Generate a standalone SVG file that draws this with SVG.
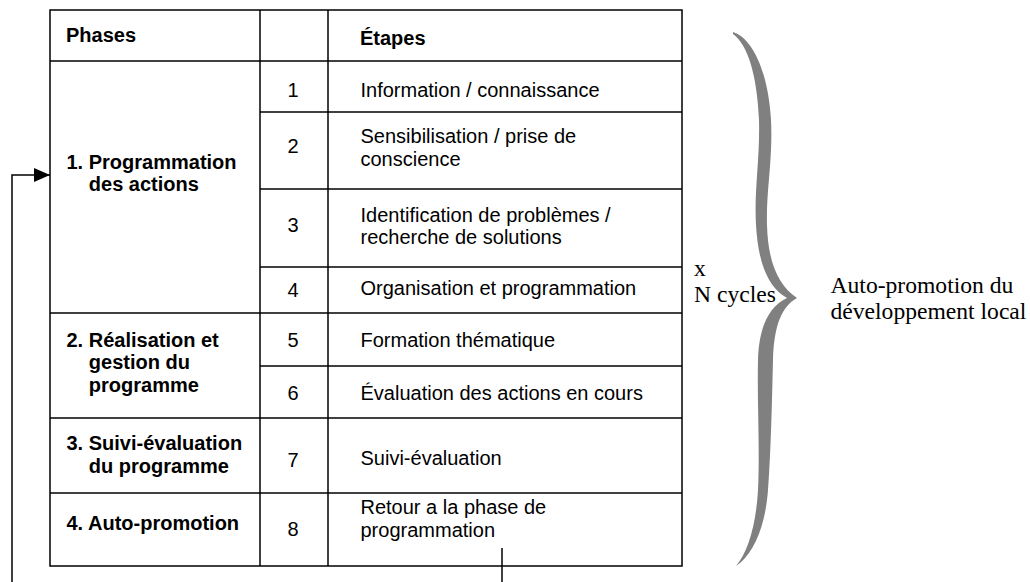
<svg xmlns="http://www.w3.org/2000/svg" width="1030" height="582" viewBox="0 0 1030 582">
<style>
.ln{stroke:#000;stroke-width:1.5;fill:none}
.t{font-family:"Liberation Sans",Arial,sans-serif;font-size:20px;fill:#000}
.b{font-weight:bold}
.n{text-anchor:middle}
.s{font-family:"Liberation Serif","Times New Roman",serif;font-size:23.6px;fill:#000}
</style>
<defs>
<marker id="ah" markerWidth="16" markerHeight="14" refX="16" refY="7" orient="auto" markerUnits="userSpaceOnUse">
<path d="M0,0 L16,7 L0,14 Z" fill="#000"/>
</marker>
</defs>
<rect width="1030" height="582" fill="#fff"/>
<g id="table">
<rect class="ln" x="50" y="10" width="632" height="556"/>
<line class="ln" x1="260" y1="10" x2="260" y2="566"/>
<line class="ln" x1="328" y1="10" x2="328" y2="566"/>
<line class="ln" x1="50" y1="61" x2="682" y2="61"/>
<line class="ln" x1="260" y1="112" x2="682" y2="112"/>
<line class="ln" x1="260" y1="189" x2="682" y2="189"/>
<line class="ln" x1="260" y1="267" x2="682" y2="267"/>
<line class="ln" x1="50" y1="313" x2="682" y2="313"/>
<line class="ln" x1="260" y1="366" x2="682" y2="366"/>
<line class="ln" x1="50" y1="418" x2="682" y2="418"/>
<line class="ln" x1="50" y1="493" x2="682" y2="493"/>
</g>
<g id="header">
<text class="t b" x="66" y="42">Phases</text>
<text class="t b" x="360" y="44.5">Étapes</text>
</g>
<g id="phase1">
<text class="t b" x="66.5" y="168.5">1. Programmation</text>
<text class="t b" x="88.8" y="191">des actions</text>
</g>
<g id="phase2">
<text class="t b" x="66.5" y="346.5">2. Réalisation et</text>
<text class="t b" x="88.8" y="369">gestion du</text>
<text class="t b" x="88.8" y="391.5">programme</text>
</g>
<g id="phase3">
<text class="t b" x="66.5" y="450">3. Suivi-évaluation</text>
<text class="t b" x="88.8" y="472.5">du programme</text>
</g>
<g id="phase4">
<text class="t b" x="66.5" y="530">4. Auto-promotion</text>
</g>
<g id="numbers">
<text class="t n" x="293" y="97">1</text>
<text class="t n" x="293" y="153">2</text>
<text class="t n" x="293" y="232">3</text>
<text class="t n" x="293" y="297">4</text>
<text class="t n" x="293" y="346.5">5</text>
<text class="t n" x="293" y="399.5">6</text>
<text class="t n" x="293" y="466.5">7</text>
<text class="t n" x="293" y="535.5">8</text>
</g>
<g id="steps">
<text class="t" x="360.5" y="97">Information / connaissance</text>
<text class="t" x="360.5" y="143">Sensibilisation / prise de</text>
<text class="t" x="360.5" y="165.5">conscience</text>
<text class="t" x="360.5" y="221.5">Identification de problèmes /</text>
<text class="t" x="360.5" y="244">recherche de solutions</text>
<text class="t" x="360.5" y="295">Organisation et programmation</text>
<text class="t" x="360.5" y="346.5">Formation thématique</text>
<text class="t" x="360.5" y="400">Évaluation des actions en cours</text>
<text class="t" x="360.5" y="465">Suivi-évaluation</text>
<text class="t" x="360.5" y="513.5">Retour a la phase de</text>
<text class="t" x="360.5" y="536.5">programmation</text>
</g>
<g id="connectors">
<polyline class="ln" points="12,582 12,175 50,175" marker-end="url(#ah)"/>
<line class="ln" x1="502" y1="548" x2="502" y2="582"/>
</g>
<g id="brace">
<path fill="#808080" d="M733,32 C752,38 768,70 771,120 C773,160 766,190 767,225 C768,262 778,285 797,298 C782,306 774,325 773,360 C772,400 771,450 768,490 C765,530 752,555 736,566 C748,552 756,525 758,490 C760,450 757,400 758,360 C759,325 770,306 787,298 C768,288 758,262 756,225 C754,190 760,160 759,120 C757,75 748,45 733,34 Z"/>
</g>
<g id="labels">
<text class="s" x="694" y="276">x</text>
<text class="s" x="694" y="302">N cycles</text>
<text class="s" x="830.5" y="292.5">Auto-promotion du</text>
<text class="s" x="830.5" y="318.5">développement local</text>
</g>
</svg>
